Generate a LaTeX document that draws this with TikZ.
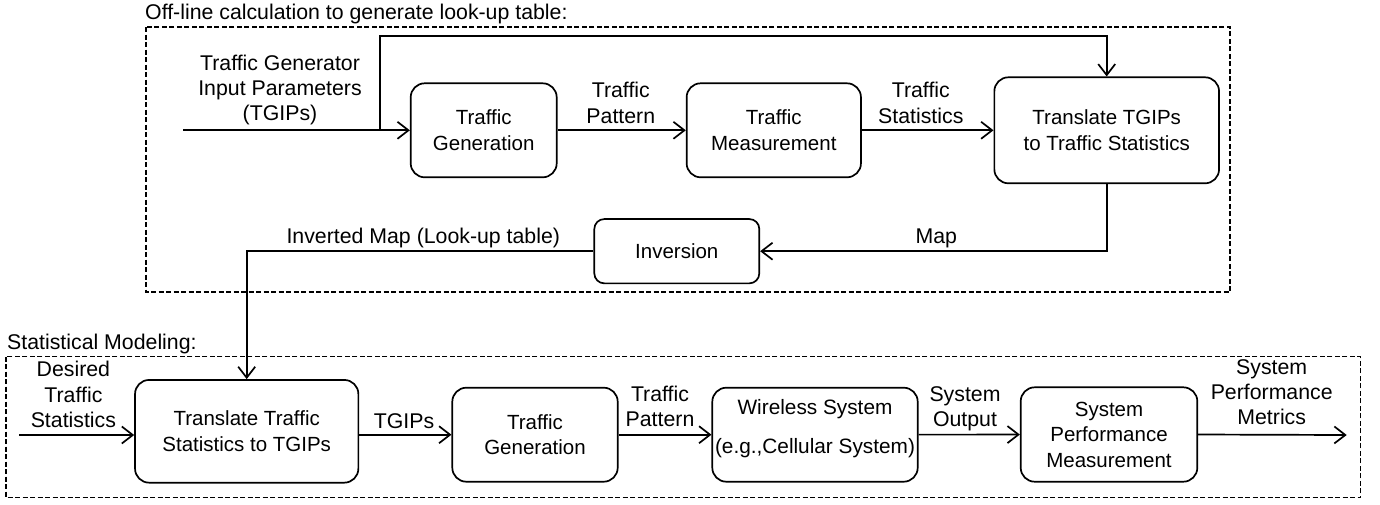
\documentclass[tikz,border=0pt]{standalone}
\usepackage{fontspec}
\setmainfont{Liberation Sans}
\usetikzlibrary{arrows.meta}

\begin{document}
\begin{tikzpicture}[x=1pt,y=-1pt,
  box/.style={draw, line width=1.7pt, rounded corners=14pt, align=center,
    font=\fontsize{20.5}{25.5}\selectfont, inner sep=0pt},
  lbl/.style={align=center, font=\fontsize{21.3}{25.3}\selectfont, inner sep=0pt},
  link/.style={line width=1.7pt, -{Straight Barb[length=11pt,width=17pt]}},
  frame/.style={line width=1.4pt, dash pattern=on 5pt off 2.5pt}]

\useasboundingbox (0,0) rectangle (1380,504);

% dashed frames of the two stages
\draw[frame] (146,27) rectangle (1230,292);
\draw[frame] (6,356.7) rectangle (1360.7,497.7);
\node[lbl, anchor=base west] (offtitle) at (145,19) {Off-line calculation to generate look-up table:};
\node[lbl, anchor=base west] (smtitle) at (7,349) {Statistical Modeling:};

% off-line stage
\node[box, minimum width=146pt, minimum height=94pt] (tg1) at (483.7,130.3) {Traffic\\Generation};
\node[box, minimum width=174.3pt, minimum height=94pt] (tm1) at (773.8,130.3) {Traffic\\Measurement};
\node[box, minimum width=224.7pt, minimum height=106pt] (tr1) at (1106.7,130.3) {Translate TGIPs\\to Traffic Statistics};
\node[box, rounded corners=10pt, minimum width=165pt, minimum height=64.3pt] (inv) at (676.8,251.2) {Inversion};

% statistical modeling stage
\node[box, minimum width=223.3pt, minimum height=102.7pt] (tts) at (246.7,431.3) {Translate Traffic\\Statistics to TGIPs};
\node[box, minimum width=165.4pt, minimum height=94pt] (tg2) at (535,434.7) {Traffic\\Generation};
\node[box, minimum width=205.4pt, minimum height=94pt] (ws) at (815,434.7) {};
\node[align=center, inner sep=0pt, font=\fontsize{20.8}{25.5}\selectfont] (wstext) at (815,428.7)
  {Wireless System\\[12.8pt](e.g.,Cellular System)};
\node[box, minimum width=176.6pt, minimum height=94.4pt] (spm) at (1109,434.5) {System\\Performance\\Measurement};

% connectors, off-line stage
\coordinate (tgipin) at (183,130.3);
\coordinate (fork) at (380,130.3);
\coordinate (over) at (380,35.7);
\draw[link] (tgipin) -- (tg1.west);
\draw[link] (fork) -- (over) -| (tr1.north);
\draw[link] (tg1) -- (tm1);
\draw[link] (tm1) -- (tr1);
\draw[link] (tr1.south) |- (inv.east);
\draw[link] (inv.west) -| (tts.north);

% connectors, statistical modeling stage
\coordinate (desin) at (19,435);
\coordinate (perfout) at (1346.7,435);
\draw[link] (desin) -- (desin -| tts.west);
\draw[link] (tts.east |- tg2.west) -- (tg2.west);
\draw[link] (tg2) -- (ws);
\draw[link] (ws) -- (spm);
\draw[link] (spm.east) -- (perfout);

% connector labels
\node[lbl] (tgiplbl) at (280,90) {Traffic Generator\\Input Parameters\\(TGIPs)};
\node[lbl] (patlbl1) at (620.8,102.8) {Traffic\\Pattern};
\node[lbl] (statlbl) at (920.8,102.8) {Traffic\\Statistics};
\node[lbl, anchor=base] (maplbl) at (936.3,243.3) {Map};
\node[lbl, anchor=base] (invlbl) at (423.3,243.3) {Inverted Map (Look-up table)};
\node[lbl] (deslbl) at (73.4,394.5) {Desired\\Traffic\\Statistics};
\node[lbl, anchor=base] (tgipslbl) at (404,428.3) {TGIPs};
\node[lbl] (patlbl2) at (660,406.5) {Traffic\\Pattern};
\node[lbl] (outlbl) at (965,409) {System\\Output};
\node[lbl] (metlbl) at (1271.7,392.1) {System\\Performance\\Metrics};
\end{tikzpicture}
\end{document}
